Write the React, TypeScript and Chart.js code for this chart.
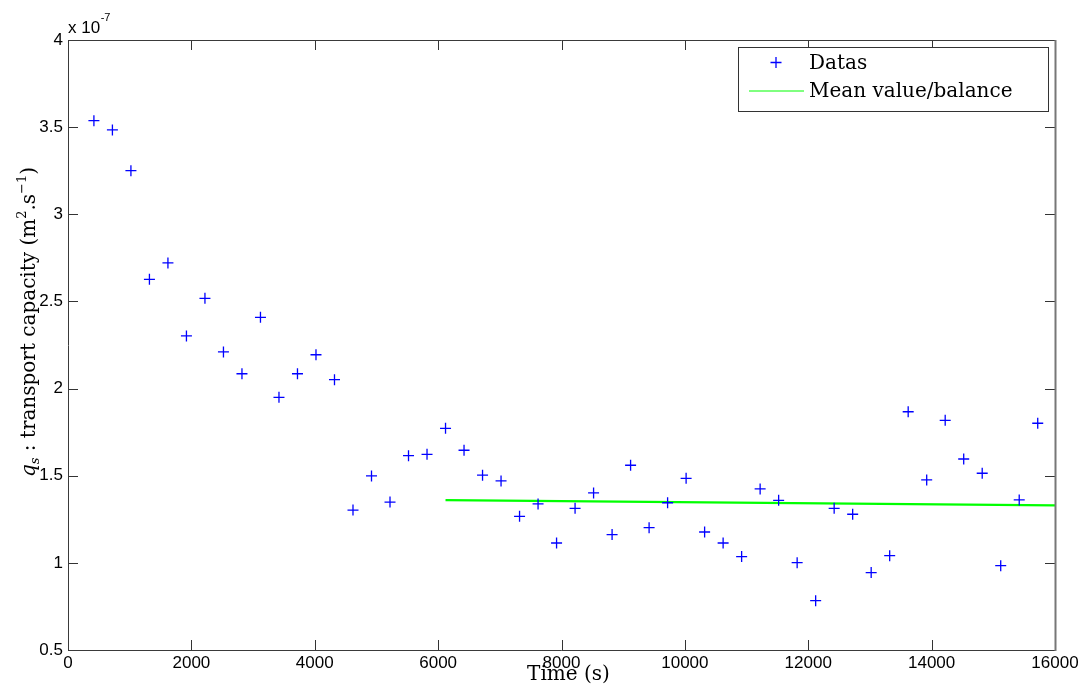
import React, { useEffect, useRef } from "react";
import { Chart, registerables } from "chart.js";

Chart.register(...registerables);

// Time (s) of each measurement
const timeSeconds = [
  420, 720, 1020, 1320, 1620, 1920, 2220, 2520, 2820, 3120,
  3420, 3720, 4020, 4320, 4620, 4920, 5220, 5520, 5820, 6120,
  6420, 6720, 7020, 7320, 7620, 7920, 8220, 8520, 8820, 9120,
  9420, 9720, 10020, 10320, 10620, 10920, 11220, 11520, 11820, 12120,
  12420, 12720, 13020, 13320, 13620, 13920, 14220, 14520, 14820, 15120,
  15420, 15720,
];

// transport capacity, in units of 1e-7 m^2/s
const capacity = [
  3.537, 3.484, 3.25, 2.627, 2.721, 2.302, 2.518, 2.21, 2.085, 2.409,
  1.95, 2.085, 2.194, 2.051, 1.303, 1.499, 1.349, 1.615, 1.623, 1.772,
  1.646, 1.503, 1.47, 1.267, 1.338, 1.114, 1.313, 1.401, 1.162, 1.56,
  1.202, 1.345, 1.485, 1.177, 1.114, 1.036, 1.424, 1.359, 1.001, 0.783,
  1.313, 1.279, 0.944, 1.041, 1.867, 1.476, 1.818, 1.596, 1.514, 0.984,
  1.361, 1.801,
];

// Mean value / balance line
const meanTimes = [6120, 16000];
const meanValues = [1.36, 1.33];

const xTicks = [0, 2000, 4000, 6000, 8000, 10000, 12000, 14000, 16000];
const yTicks = [0.5, 1, 1.5, 2, 2.5, 3, 3.5, 4];
const exponentBase = "x 10";
const exponentPower = "-7";
const legendLabels = ["Datas", "Mean value/balance"];
const xTitle = "Time (s)";

const BLUE = "#0000ff";
const GREEN = "#00ff00";
const SERIF = '"DejaVu Serif", serif';
const SANS = '"Liberation Sans", Arial, sans-serif';

export default function App() {
  const ref = useRef<HTMLCanvasElement | null>(null);

  useEffect(() => {
    const canvas = ref.current;
    if (!canvas) return;

    const framePlugin = {
      id: "matlabFrame",
      afterDraw(chart: any) {
        const { ctx, chartArea: a, scales } = chart;
        const xs = scales.x;
        const ys = scales.y;
        ctx.save();

        // inside ticks on all four sides
        ctx.strokeStyle = "#333";
        ctx.lineWidth = 1;
        ctx.beginPath();
        for (const t of xTicks) {
          const px = Math.round(xs.getPixelForValue(t)) + 0.5;
          ctx.moveTo(px, a.bottom);
          ctx.lineTo(px, a.bottom - 10);
          ctx.moveTo(px, a.top);
          ctx.lineTo(px, a.top + 10);
        }
        for (const t of yTicks) {
          const py = Math.round(ys.getPixelForValue(t)) + 0.5;
          ctx.moveTo(a.left, py);
          ctx.lineTo(a.left + 10, py);
          ctx.moveTo(a.right, py);
          ctx.lineTo(a.right - 10, py);
        }
        ctx.stroke();

        // box
        ctx.strokeStyle = "#3a3a3a";
        ctx.beginPath();
        ctx.moveTo(a.right, a.top + 0.5);
        ctx.lineTo(a.left + 0.5, a.top + 0.5);
        ctx.lineTo(a.left + 0.5, a.bottom + 0.5);
        ctx.lineTo(a.right, a.bottom + 0.5);
        ctx.stroke();
        ctx.strokeStyle = "#777";
        ctx.lineWidth = 2;
        ctx.beginPath();
        ctx.moveTo(a.right + 0.5, a.top);
        ctx.lineTo(a.right + 0.5, a.bottom + 1);
        ctx.stroke();

        // legend
        const lx = a.right - 317;
        const ly = a.top + 7;
        const lw = 310;
        const lh = 64;
        ctx.fillStyle = "#fff";
        ctx.fillRect(lx, ly, lw, lh);
        ctx.strokeStyle = "#333";
        ctx.lineWidth = 1;
        ctx.strokeRect(lx + 0.5, ly + 0.5, lw, lh);

        // legend marker "+"
        const mx = lx + 38;
        const my = ly + 15.5;
        ctx.strokeStyle = BLUE;
        ctx.lineWidth = 1.3;
        ctx.beginPath();
        ctx.moveTo(mx - 5.5, my);
        ctx.lineTo(mx + 5.5, my);
        ctx.moveTo(mx, my - 5.5);
        ctx.lineTo(mx, my + 5.5);
        ctx.stroke();
        // legend line
        ctx.strokeStyle = GREEN;
        ctx.lineWidth = 1;
        ctx.beginPath();
        ctx.moveTo(lx + 11, ly + 44);
        ctx.lineTo(lx + 66, ly + 44);
        ctx.stroke();

        ctx.fillStyle = "#000";
        ctx.font = `20px ${SERIF}`;
        ctx.textAlign = "left";
        ctx.textBaseline = "alphabetic";
        ctx.fillText(legendLabels[0], lx + 71, ly + 22);
        ctx.fillText(legendLabels[1], lx + 71, ly + 50);

        // exponent label
        ctx.font = `17px ${SANS}`;
        ctx.fillText(exponentBase, a.left, a.top - 7);
        const bw = ctx.measureText(exponentBase).width;
        ctx.font = `11px ${SANS}`;
        ctx.fillText(exponentPower, a.left + bw + 0.5, a.top - 19);

        // x title
        ctx.font = `20px ${SERIF}`;
        ctx.textAlign = "center";
        ctx.fillText(xTitle, (a.left + a.right) / 2 + 7, a.bottom + 30);

        // y title (rotated)
        ctx.translate(35, 322);
        ctx.rotate(-Math.PI / 2);
        ctx.textAlign = "left";
        const pieces: { text: string; font: string; dy: number }[] = [
          { text: "q", font: `italic 20px ${SERIF}`, dy: 0 },
          { text: "s", font: `italic 13px ${SERIF}`, dy: 4 },
          { text: " : transport capacity (m", font: `20px ${SERIF}`, dy: 0 },
          { text: "2", font: `13px ${SERIF}`, dy: -9 },
          { text: ".s", font: `20px ${SERIF}`, dy: 0 },
          { text: "\u22121", font: `13px ${SERIF}`, dy: -9 },
          { text: ")", font: `20px ${SERIF}`, dy: 0 },
        ];
        let total = 0;
        for (const p of pieces) {
          ctx.font = p.font;
          total += ctx.measureText(p.text).width;
        }
        let cx = -total / 2;
        for (const p of pieces) {
          ctx.font = p.font;
          ctx.fillText(p.text, cx, p.dy);
          cx += ctx.measureText(p.text).width;
        }
        ctx.restore();
      },
    };

    const chart = new Chart(canvas, {
      type: "scatter",
      data: {
        datasets: [
          {
            label: legendLabels[0],
            data: timeSeconds.map((t, i) => ({ x: t, y: capacity[i] })),
            pointStyle: "cross",
            pointRadius: 5.5,
            pointBorderWidth: 1.3,
            borderColor: BLUE,
            backgroundColor: BLUE,
            showLine: false,
          },
          {
            label: legendLabels[1],
            data: meanTimes.map((t, i) => ({ x: t, y: meanValues[i] })),
            showLine: true,
            borderColor: GREEN,
            borderWidth: 2.2,
            pointRadius: 0,
            fill: false,
          },
        ],
      },
      options: {
        responsive: false,
        animation: false,
        layout: { padding: { top: 40, right: 27, left: 0, bottom: 0 } },
        plugins: {
          legend: { display: false },
          tooltip: { enabled: false },
        },
        scales: {
          x: {
            type: "linear",
            min: 0,
            max: 16000,
            afterFit: (s: any) => {
              s.height = 43;
            },
            afterBuildTicks: (s: any) => {
              s.ticks = xTicks.map((v) => ({ value: v }));
            },
            ticks: {
              callback: (v: any) => String(v),
              font: { family: SANS, size: 17 },
              color: "#000",
              padding: 3,
              maxRotation: 0,
            },
            grid: { display: false, drawTicks: false },
            border: { display: false },
          },
          y: {
            type: "linear",
            min: 0.5,
            max: 4,
            afterFit: (s: any) => {
              s.width = 68;
            },
            afterBuildTicks: (s: any) => {
              s.ticks = yTicks.map((v) => ({ value: v }));
            },
            ticks: {
              callback: (v: any) => String(v),
              font: { family: SANS, size: 17 },
              color: "#000",
              padding: 5,
            },
            grid: { display: false, drawTicks: false },
            border: { display: false },
          },
        },
      },
      plugins: [framePlugin],
    } as any);

    return () => chart.destroy();
  }, []);

  return (
    <div style={{ position: "absolute", left: 0, top: 0, width: 1082, height: 693, background: "#fff" }}>
      <canvas ref={ref} width={1082} height={693} style={{ display: "block" }} />
    </div>
  );
}
